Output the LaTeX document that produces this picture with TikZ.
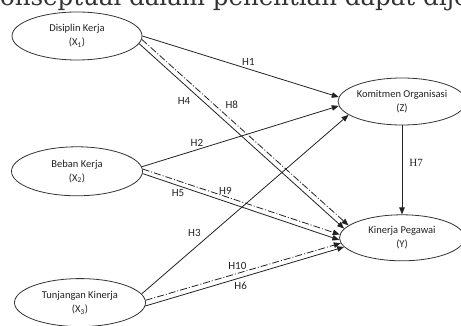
\documentclass[tikz,border=0pt]{standalone}
\usepackage{fontspec}
\setmainfont{Carlito}
\newfontfamily\headfont{DejaVu Serif}
\newfontfamily\hypserif{Liberation Serif}
\usepackage{tikz}
\usetikzlibrary{arrows.meta,positioning,shapes.geometric}
\definecolor{PathInk}{HTML}{222222}
\definecolor{PathEdge}{HTML}{333333}
\tikzset{
  construct/.style={ellipse,draw=PathEdge,line width=0.8pt,fill=white,align=center,
    minimum width=130pt,minimum height=48pt,inner sep=0pt,
    font=\fontsize{10.5}{14}\selectfont,text=PathInk},
  effect/.style={-{Triangle[length=7pt,width=5.5pt]},line width=0.8pt,draw=PathInk},
  mediated/.style={effect,dash pattern=on 7pt off 2pt on 1pt off 2pt},
  hyp/.style={font=\fontsize{11}{12}\selectfont,text=PathInk,inner sep=1pt}
}

\begin{document}
\begin{tikzpicture}[x=1pt,y=1pt]
  \useasboundingbox (0,0) rectangle (461,-326);
  \clip (0,0) rectangle (461,-326);
  \node[anchor=base west,inner sep=0pt,text=black!80,
    font=\headfont\fontsize{24.5}{28}\selectfont] (lead) at (-15,-6)
    {konseptual dalam penelitian dapat dijelaskan};
  % exogenous
  \node[construct] (dk) at (77,-36) {Disiplin Kerja\\(X\textsubscript{1})};
  \node[construct,minimum width=131pt,minimum height=49pt,below=86pt of dk] (bk) {Beban Kerja\\(X\textsubscript{2})};
  \node[construct,minimum width=131pt,below=82pt of bk,xshift=3pt] (tk) {Tunjangan Kinerja\\(X\textsubscript{3})};
  % mediator and outcome
  \node[construct,minimum width=126pt,minimum height=47pt] (ko) at (402,-101.5) {Komitmen Organisasi\\(Z)};
  \node[construct,minimum width=125pt,minimum height=46pt,below=89pt of ko] (kp) {Kinerja Pegawai\\(Y)};
  \draw[effect] (dk.0) -- node[hyp,pos=.54,above=2pt] (h1) {H1} (ko.176);
  \draw[effect] (bk.4) -- node[hyp,pos=.28,above=2pt] (h2) {H2} (ko.184);
  \draw[effect] (tk.8) -- node[hyp,pos=.34,left=10pt] (h3) {H3} (ko.194);
  \draw[effect] (dk.-7) -- node[hyp,pos=.31,left=11pt] (h4) {H4} (kp.171);
  \draw[effect] (bk.-2) -- node[hyp,pos=.18,below=3pt] (h5) {H5} (kp.182);
  \draw[effect] (tk.-3) -- node[hyp,pos=.48,below=3pt] (h6) {H6} (kp.189);
  \draw[effect] (ko) -- node[pos=.42,right=6pt,inner sep=1pt,text=PathInk,
    font=\hypserif\fontsize{11}{12}\selectfont] (h7) {H7} (kp);
  \draw[mediated] (dk.-3) -- node[hyp,pos=.35,right=10pt] (h8) {H8} (kp.167);
  \draw[mediated] (bk.2) -- node[hyp,pos=.42,above=1pt] (h9) {H9} (kp.177);
  \draw[mediated] (tk.2) -- node[hyp,pos=.47,above=2pt] (h10) {H10} (kp.185);
\end{tikzpicture}
\end{document}
